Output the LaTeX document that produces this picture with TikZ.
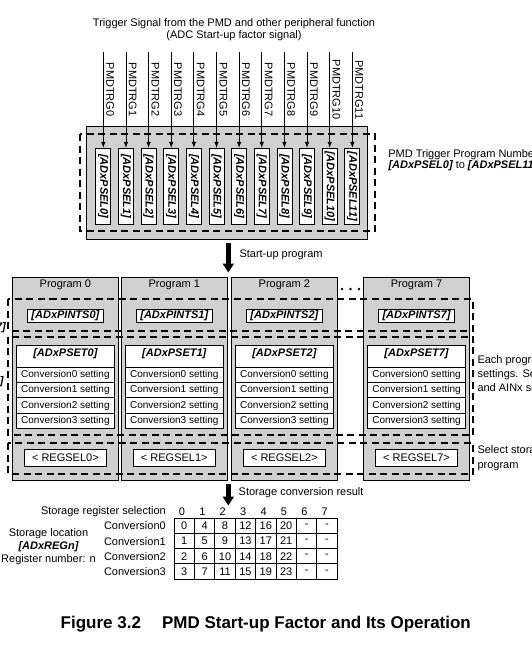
\documentclass[tikz,border=0pt]{standalone}
\usepackage{fontspec}
\setmainfont{Liberation Sans}
\usetikzlibrary{arrows.meta,positioning}

\definecolor{boxgray}{RGB}{208,208,208}
\newcommand{\regnm}[1]{{\bfseries\itshape #1}}

\tikzset{
  every node/.style={font=\fontsize{11}{12}\selectfont, inner sep=0pt},
  regname/.style={font=\fontsize{11}{12}\selectfont\bfseries\itshape},
  progcol/.style={draw, fill=boxgray, line width=0.8pt},
  regbox/.style={draw, fill=white, line width=0.8pt},
  groupframe/.style={line width=2pt, dash pattern=on 7pt off 4.5pt},
  trgarrow/.style={-{Latex[width=4.5pt,length=6pt]}, line width=0.8pt},
  flowarrow/.style={-{Triangle[width=11pt,length=9pt]}, line width=4.5pt},
  cell/.style={draw, line width=0.8pt, minimum width=20.4pt, minimum height=15.17pt},
}

\begin{document}
\begin{tikzpicture}[x=1pt, y=-1pt]
\useasboundingbox (0,0) rectangle (532,651);
\clip (0,0) rectangle (532,651);

\node[align=center] (trgtitle) at (234,29.5) {Trigger Signal from the PMD and other peripheral function\\(ADC Start-up factor signal)};

\node[progcol, minimum width=280.6pt, minimum height=113pt] (pselblk) at (227,182.5) {};
\foreach \i in {0,...,11} {
  \pgfmathsetmacro{\xx}{103.3+22.64*\i}
  \coordinate (trg\i) at (\xx,51.5);
  \node[rotate=-90] (trglbl\i) at (\xx+6.8,89.7) {PMDTRG\i};
  \node[regbox, regname, minimum width=15pt, minimum height=76pt] (psel\i) at (\xx,186.3) {\rotatebox{-90}{[ADxPSEL\i]}};
  \draw[trgarrow] (trg\i) -- (psel\i.north);
}
\draw[groupframe] (80,134) rectangle (375,231);
\node[align=center, font=\fontsize{11}{11}\selectfont] (pselnote) at (463,160) {PMD Trigger Program Number\\\regnm{[ADxPSEL0]} to \regnm{[ADxPSEL11]}};

\coordinate (su0) at (228.3,243.3);
\coordinate (su1) at (228.3,272.5);
\draw[flowarrow] (su0) -- (su1);
\node[anchor=west] (sulbl) at (239.3,255) {Start-up program};

\foreach \i/\cx in {0/65.4,1/174.3,2/284.4,7/416.5} {
  \node[progcol, minimum width=106.3pt, minimum height=203.2pt] (prog\i) at (\cx,378.9) {};
  \node (progname\i) at (\cx,285) {Program \i};
  \node[regbox, regname, minimum width=76pt, minimum height=13.4pt] (pints\i) at (\cx,316) {[ADxPINTS\i]};
  \node[regbox, minimum width=98.4pt, minimum height=21.6pt] (pset\i) at (\cx,356.5) {};
  \node[regname] (psettl\i) at (\cx,354) {[ADxPSET\i]};
  \foreach \rw in {0,...,3} {
    \node[regbox, minimum width=98.4pt, minimum height=15.25pt, font=\fontsize{10}{12}\selectfont] (conv\i\rw) at (\cx,{375+15.25*\rw}) {Conversion\rw\ setting};
  }
  \node[regbox, minimum width=82.4pt, minimum height=17pt] (regsel\i) at (\cx,458.1) {< REGSEL\i>};
}
\foreach \d in {342,350.5,359} \fill (\d,289) circle (1.4pt);

\draw[groupframe] (8.3,299.3) rectangle (472.7,330.5);
\draw[groupframe] (8.3,336.7) rectangle (473.3,435);
\draw[groupframe] (8.3,443.3) rectangle (473.3,474);
\node[anchor=east] (pintsrng) at (6,328) {\regnm{[ADxPINTS0]} to \regnm{[ADxPINTS7]}};
\node[anchor=east] (psetrng) at (3.8,381.7) {\regnm{[ADxPSET0]} to \regnm{[ADxPSET7]}};

\node[anchor=west, align=left, font=\fontsize{11}{13.8}\selectfont] (psetnote) at (477.3,374.5) {Each program has four conversion\\settings. Select the conversion channel\\and AINx setting};
\node[anchor=west, align=left, font=\fontsize{11}{14.4}\selectfont] (regselnote) at (477.3,458.3) {Select storage register for each\\program};

\coordinate (sc0) at (228.3,484.3);
\coordinate (sc1) at (228.3,505.5);
\draw[flowarrow] (sc0) -- (sc1);
\node[anchor=west] (sclbl) at (238.5,492.5) {Storage conversion result};

\node[anchor=east] (selhdr) at (166,511.7) {Storage register selection};
\foreach \cl in {0,...,7} {
  \node (selno\cl) at ({182+20.4*\cl},511.7) {\cl};
}
\foreach \rw in {0,...,3} {
  \node[anchor=east] (convlbl\rw) at (166,{525.9+15.17*\rw}) {Conversion\rw};
  \foreach \cl in {0,...,7} {
    \pgfmathtruncatemacro{\val}{4*\cl+\rw}
    \node[cell] (cell\rw\cl) at ({184.2+20.4*\cl},{525.9+15.17*\rw}) {\ifnum\cl<6 \val\else -\fi};
  }
}
\node[align=center, font=\fontsize{11}{13}\selectfont] (storloc) at (48.5,547) {Storage location\\\regnm{[ADxREGn]}\\Register number: n};

\node[font=\fontsize{17}{20}\selectfont\bfseries] (caption) at (265.8,623.7) {Figure 3.2\hspace{21pt}PMD Start-up Factor and Its Operation};
\end{tikzpicture}
\end{document}
